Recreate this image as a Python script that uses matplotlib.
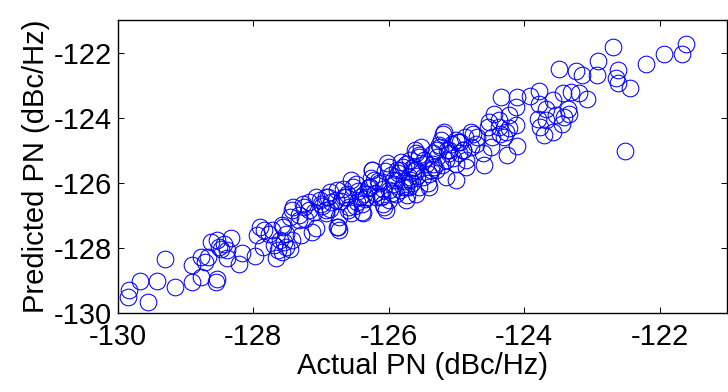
import matplotlib
matplotlib.use("Agg")
import matplotlib.pyplot as plt

# Actual PN (x) and Predicted PN (y), dBc/Hz
actual_pn = [
    -129.85, -129.83, -129.56, -129.67, -129.42, -129.16, -129.30, -128.91, -128.91, -128.77,
    -128.55, -128.54, -128.71, -128.77, -128.67, -128.63, -128.53, -128.50, -128.47, -128.38,
    -128.33, -128.43, -128.38, -128.21, -128.16, -127.98, -127.94, -127.84, -127.72, -127.70,
    -127.67, -127.64, -127.57, -127.55, -127.52, -127.45, -127.42, -127.57, -127.42, -127.30,
    -127.25, -127.18, -127.13, -127.08, -127.32, -127.23, -127.01, -126.93, -126.93, -126.86,
    -126.76, -126.74, -126.76, -126.66, -126.56, -126.56, -126.47, -126.39, -126.37, -126.27,
    -126.24, -126.22, -126.12, -126.07, -126.02, -126.00, -125.93, -125.88, -125.83, -125.73,
    -125.68, -125.63, -125.61, -125.68,
    -121.61, -121.67, -121.93, -122.20, -122.69, -122.91, -122.61, -122.65, -122.62, -122.44,
    -122.93, -123.14, -123.24, -123.49, -122.51, -123.08, -123.19, -123.31, -123.43, -123.78,
    -123.92, -124.10, -124.34, -123.58, -123.36, -123.41, -123.53, -123.68, -123.78, -123.80,
    -123.76, -123.71, -123.58, -123.44, -123.34, -123.68, -124.12, -124.22, -124.44, -124.52,
    -124.37, -124.27, -124.12, -124.10, -124.25, -124.35, -124.49, -124.61, -124.59, -124.79,
    -124.69, -124.79, -124.86, -125.01, -124.96, -125.18, -125.23, -125.11, -125.15, -125.30,
    -125.35, -125.40, -125.52, -125.55, -125.62, -125.70, -125.74, -125.79, -125.55, -125.60,
    -125.42, -125.30, -124.91, -124.71, -124.54, -124.47, -124.37, -124.30, -124.22,
    -127.41, -127.27, -127.07, -127.00, -126.87, -126.78, -126.73, -126.75, -126.58, -126.53,
    -126.43, -126.38, -126.29, -126.24, -126.14, -126.09, -126.04, -125.99, -125.89, -125.89,
    -125.79, -125.74, -125.60, -125.60, -125.50, -125.45, -125.33, -125.25, -125.20, -125.11,
    -125.01, -124.91, -124.88, -124.86, -125.06, -125.35, -125.16, -125.99, -126.19, -127.17,
    -127.32, -127.56, -127.61, -127.76, -127.90, -127.86, -127.51, -127.46, -126.92, -126.63,
    -126.33, -125.84, -125.70, -125.74, -125.40, -125.01,
    -127.10, -126.98, -126.85, -126.70, -126.62, -126.50, -126.45, -126.35, -126.30, -126.20,
    -126.16, -126.08, -125.96, -125.92, -125.86, -125.78, -125.66, -125.58, -125.48, -125.38,
    -125.28, -125.22, -125.14, -125.05, -124.98, -126.90, -126.68, -126.48, -126.26, -126.05,
    -125.82, -125.55, -125.26, -124.95, -124.75, -126.60, -126.40, -126.10, -125.95, -125.65,
]
predicted_pn = [
    -129.50, -129.29, -129.65, -129.01, -129.01, -129.19, -128.34, -129.04, -128.53, -128.89,
    -129.04, -128.94, -128.43, -128.27, -128.27, -127.81, -127.76, -127.97, -128.02, -128.07,
    -127.71, -127.88, -128.32, -128.48, -128.15, -128.25, -127.61, -127.45, -127.45, -127.91,
    -128.32, -128.07, -128.12, -127.81, -127.56, -128.02, -127.76, -127.30, -126.84, -127.61,
    -126.74, -126.58, -127.51, -127.40, -126.99, -127.10, -126.53, -126.43, -126.94, -126.79,
    -127.35, -127.45, -126.23, -126.43, -125.92, -126.94, -126.58, -126.89, -126.33, -126.12,
    -125.61, -125.92, -126.43, -126.74, -125.40, -126.23, -125.92, -125.61, -126.23, -126.38,
    -125.92, -125.61, -125.00, -125.30,
    -121.73, -122.03, -122.05, -122.34, -121.83, -122.26, -122.55, -122.77, -122.95, -123.09,
    -122.70, -122.70, -122.57, -122.49, -125.03, -123.42, -123.24, -123.21, -123.24, -123.18,
    -123.34, -123.36, -123.38, -123.47, -123.72, -123.98, -123.93, -123.72, -123.57, -124.03,
    -124.28, -124.54, -124.44, -124.18, -123.88, -124.08, -123.67, -123.93, -123.88, -124.13,
    -124.28, -124.44, -124.23, -124.88, -125.15, -124.49, -124.90, -125.10, -125.46, -124.44,
    -124.59, -124.90, -125.31, -124.69, -125.10, -124.44, -124.69, -124.98, -125.31, -124.98,
    -125.41, -125.72, -124.90, -125.20, -125.51, -125.82, -126.12, -125.51, -126.12, -126.33,
    -126.02, -125.61, -124.98, -124.80, -124.28, -124.59, -124.08, -124.59, -124.33,
    -126.74, -126.64, -126.43, -126.64, -126.28, -126.53, -127.05, -127.35, -126.74, -126.12,
    -126.43, -126.94, -126.12, -125.61, -126.02, -126.64, -126.84, -125.51, -125.92, -126.33,
    -126.12, -126.53, -125.61, -125.10, -125.82, -125.41, -125.51, -124.90, -124.49, -125.10,
    -125.41, -125.00, -124.59, -125.51, -124.80, -125.10, -125.82, -126.53, -126.43, -126.84,
    -127.15, -127.35, -127.76, -127.56, -127.35, -127.97, -127.97, -127.05, -126.84, -126.43,
    -126.43, -125.61, -126.12, -125.41, -126.12, -125.92,
    -126.90, -126.70, -126.60, -126.55, -126.35, -126.70, -126.25, -126.50, -126.15, -126.30,
    -125.95, -126.20, -125.75, -126.05, -125.70, -125.95, -125.55, -125.80, -125.30, -125.60,
    -125.20, -125.45, -125.00, -125.25, -124.75, -126.45, -126.20, -126.05, -125.85, -125.65,
    -125.35, -125.15, -124.85, -124.75, -124.50, -126.85, -126.65, -126.40, -126.30, -126.00,
]
x_ticks = [-130, -128, -126, -124, -122]
y_ticks = [-130, -128, -126, -124, -122]

plt.rcParams['font.family'] = ['Liberation Sans', 'DejaVu Sans']
plt.rcParams['axes.unicode_minus'] = False
fig = plt.figure(figsize=(7.28, 3.92), dpi=100)
ax = fig.add_axes([0.1617, 0.2015, 0.8375, 0.7475])
ax.plot(actual_pn, predicted_pn, linestyle='none', marker='o', markersize=12,
        markerfacecolor='none', markeredgecolor=(0, 0, 1), markeredgewidth=0.75)
ax.set_xlim(-130, -121)
ax.set_ylim(-130, -121)
ax.set_xticks(x_ticks)
ax.set_yticks(y_ticks)
ax.tick_params(direction='in', top=True, right=True, length=4, width=0.7,
               labelsize=21, pad=4, colors='black')
ax.tick_params(axis='x', pad=7)
for s in ax.spines.values():
    s.set_linewidth(1.0)
ax.set_xlabel('Actual PN (dBc/Hz)', fontsize=21, labelpad=1)
ax.set_ylabel('Predicted PN (dBc/Hz)', fontsize=21, labelpad=3)
fig.savefig('out.png', dpi=100)
